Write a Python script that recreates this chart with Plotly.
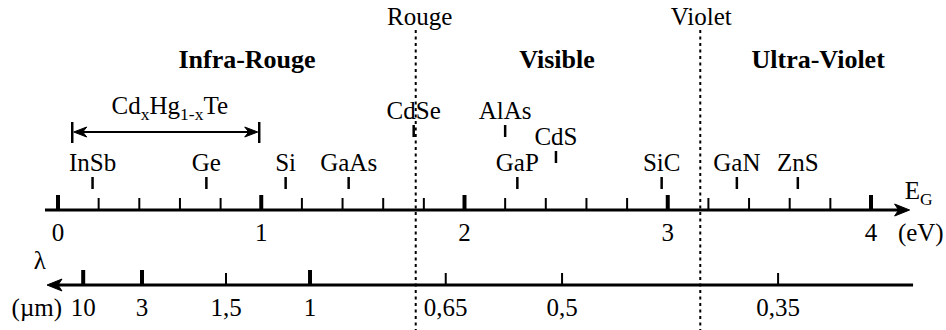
import plotly.graph_objects as go

# ---------------- data ----------------
materials = ["InSb", "Ge", "Si", "GaAs", "CdSe", "AlAs", "GaP", "CdS", "SiC", "GaN", "ZnS"]
gaps_ev = [0.17, 0.73, 1.12, 1.43, 1.75, 2.20, 2.26, 2.45, 2.97, 3.34, 3.64]
rows = ["low", "low", "low", "low", "high", "high", "low", "mid", "low", "low", "low"]

ev_major = [0, 1, 2, 3, 4]
ev_major_labels = ["0", "1", "2", "3", "4"]
ev_minor = [0.2, 0.4, 0.6, 0.8, 1.2, 1.4, 1.6, 1.8, 2.2, 2.4, 2.6, 2.8,
            3.2, 3.4, 3.6, 3.8]

wl_major = [10, 3, 1]
wl_major_labels = ["10", "3", "1"]
wl_minor = [1.5, 0.65, 0.5, 0.35]
wl_minor_labels = ["1,5", "0,65", "0,5", "0,35"]
HC = 1.24  # eV·µm : E = HC / lambda

boundary_names = ["Rouge", "Violet"]
boundary_ev = [1.76, 3.16]

region_names = ["Infra-Rouge", "Visible", "Ultra-Violet"]
region_ev = [0.93, 2.455, 3.74]

cdhgte_range = [0.07, 0.99]
cdhgte_label_ev = 0.55

# ---------------- layout constants (pixel rows, from top) ----------------
W, H = 946, 330
X0_PX, PX_PER_EV = 58.0, 203.25
XR = [-X0_PX / PX_PER_EV, (W - X0_PX) / PX_PER_EV]
PX = 1.0 / PX_PER_EV   # one horizontal pixel in eV units

Y_E = 210          # energy axis line
Y_L = 285          # wavelength axis line
ROW_TOP = {"low": 177, "mid": 151, "high": 125}
ROW_LEN = 12
FONT = "Liberation Serif, Times New Roman, serif"
FS = 25
INK = "#000000"
BOUNDARY_LABEL_SHIFT = [4, 1]   # px

E_LINE = [-0.064, 4.19]
L_LINE = [-0.054, 4.207]

fig = go.Figure()


def seg_trace(xs, y0, y1, width):
    x, y = [], []
    for v in xs:
        x += [v, v, None]
        y += [y0, y1, None]
    return go.Scatter(x=x, y=y, mode="lines", line=dict(color=INK, width=width),
                      hoverinfo="skip", showlegend=False)


def text_trace(xs, ys, texts, size=FS, weight="normal"):
    return go.Scatter(x=xs, y=ys, mode="text", text=texts, textposition="middle center",
                      textfont=dict(family=FONT, size=size, color=INK, weight=weight),
                      hoverinfo="skip", showlegend=False)


def arrow_head(tx, ty, direction, length=15, half=6, notch=11):
    # filled stealth-style head, tip at (tx, ty); direction +1 right, -1 left
    d = direction
    xs = [tx, tx - d * length * PX, tx - d * notch * PX, tx - d * length * PX, tx]
    ys = [ty, ty - half, ty, ty + half, ty]
    return go.Scatter(x=xs, y=ys, mode="lines", fill="toself", fillcolor=INK,
                      line=dict(color=INK, width=1), hoverinfo="skip", showlegend=False)


# dotted boundaries
for e in boundary_ev:
    fig.add_trace(go.Scatter(x=[e, e], y=[30, H], mode="lines",
                             line=dict(color=INK, width=2, dash="3px,3.5px"),
                             hoverinfo="skip", showlegend=False))
fig.add_trace(text_trace([e + s * PX for e, s in zip(boundary_ev, BOUNDARY_LABEL_SHIFT)],
                         [19] * len(boundary_ev), boundary_names))

# region names
fig.add_trace(text_trace(region_ev, [61] * len(region_ev), region_names, size=26, weight="bold"))

# energy axis
fig.add_trace(go.Scatter(x=[E_LINE[0], E_LINE[1] - 8 * PX], y=[Y_E, Y_E], mode="lines",
                         line=dict(color=INK, width=3), hoverinfo="skip", showlegend=False))
fig.add_trace(seg_trace(ev_major, Y_E - 15, Y_E, 4))
fig.add_trace(seg_trace(ev_minor, Y_E - 12, Y_E, 2))
fig.add_trace(text_trace(ev_major, [235] * len(ev_major), ev_major_labels))
fig.add_trace(arrow_head(E_LINE[1], Y_E, +1))
fig.add_trace(text_trace([4.235], [193], ["E<sub>G</sub>"]))
fig.add_trace(text_trace([4.245], [235], ["(eV)"]))

# materials
for r in ["low", "mid", "high"]:
    xs = [g for g, rr in zip(gaps_ev, rows) if rr == r]
    ns = [m for m, rr in zip(materials, rows) if rr == r]
    fig.add_trace(seg_trace(xs, ROW_TOP[r], ROW_TOP[r] + ROW_LEN, 2.5))
    fig.add_trace(text_trace(xs, [ROW_TOP[r] - 12] * len(xs), ns))

# CdxHg1-xTe range
fig.add_trace(seg_trace(cdhgte_range, 122, 143, 2.5))
fig.add_trace(go.Scatter(x=[cdhgte_range[0] + 6 * PX, cdhgte_range[1] - 6 * PX], y=[132, 132],
                         mode="lines", line=dict(color=INK, width=2),
                         hoverinfo="skip", showlegend=False))
fig.add_trace(arrow_head(cdhgte_range[0] + 1.5 * PX, 132, -1, length=13, half=5, notch=9))
fig.add_trace(arrow_head(cdhgte_range[1] - 1.5 * PX, 132, +1, length=13, half=5, notch=9))
fig.add_trace(text_trace([cdhgte_label_ev], [108], ["Cd<sub>x</sub>Hg<sub>1-x</sub>Te"]))

# wavelength axis
wl_major_ev = [HC / w for w in wl_major]
wl_minor_ev = [HC / w for w in wl_minor]
fig.add_trace(go.Scatter(x=[L_LINE[0] + 8 * PX, L_LINE[1]], y=[Y_L, Y_L], mode="lines",
                         line=dict(color=INK, width=3), hoverinfo="skip", showlegend=False))
fig.add_trace(seg_trace(wl_major_ev, Y_L - 15, Y_L, 4))
fig.add_trace(seg_trace(wl_minor_ev, Y_L - 12, Y_L, 2))
fig.add_trace(text_trace(wl_major_ev, [310] * len(wl_major), wl_major_labels))
fig.add_trace(text_trace(wl_minor_ev, [310] * len(wl_minor), wl_minor_labels))
fig.add_trace(arrow_head(L_LINE[0], Y_L, -1))
fig.add_trace(text_trace([-0.089], [263], ["λ"]))
fig.add_trace(text_trace([-0.104], [310], ["(µm)"]))

fig.update_layout(
    width=W, height=H, margin=dict(l=0, r=0, t=0, b=0, pad=0),
    paper_bgcolor="white", plot_bgcolor="white",
    xaxis=dict(range=XR, visible=False, fixedrange=True),
    yaxis=dict(range=[H, 0], visible=False, fixedrange=True),
    showlegend=False,
)

fig.write_html("out.html")
